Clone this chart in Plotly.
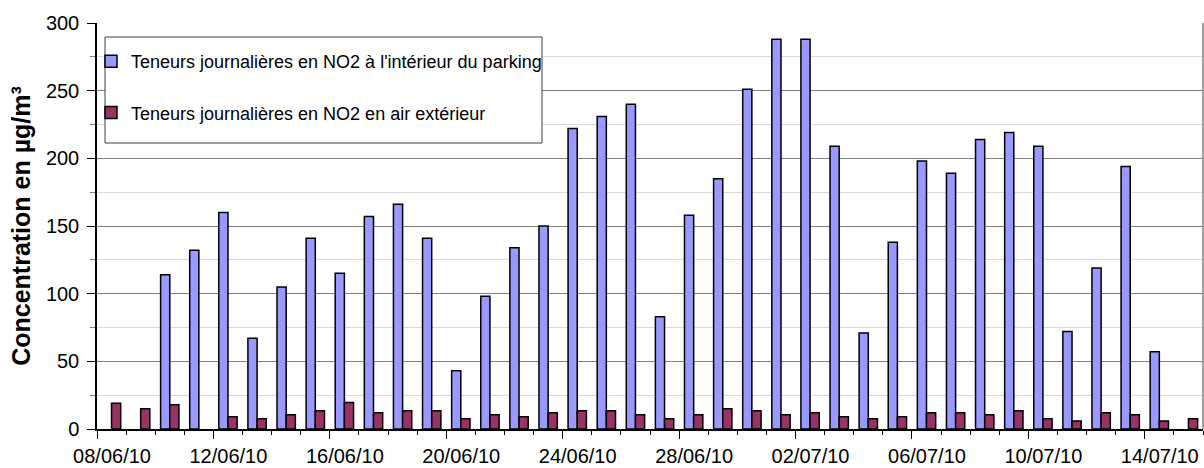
import plotly.graph_objects as go

# Daily NO2 measurements, 08/06/10 -> 15/07/10
dates = [
    "08/06/10", "09/06/10", "10/06/10", "11/06/10", "12/06/10", "13/06/10",
    "14/06/10", "15/06/10", "16/06/10", "17/06/10", "18/06/10", "19/06/10",
    "20/06/10", "21/06/10", "22/06/10", "23/06/10", "24/06/10", "25/06/10",
    "26/06/10", "27/06/10", "28/06/10", "29/06/10", "30/06/10", "01/07/10",
    "02/07/10", "03/07/10", "04/07/10", "05/07/10", "06/07/10", "07/07/10",
    "08/07/10", "09/07/10", "10/07/10", "11/07/10", "12/07/10", "13/07/10",
    "14/07/10", "15/07/10",
]

# Inside the car park (µg/m³), None = no measurement
no2_parking = [
    None, None, 114, 132, 160, 67, 105, 141, 115, 157, 166, 141,
    43, 98, 134, 150, 222, 231, 240, 83, 158, 185, 251, 288,
    288, 209, 71, 138, 198, 189, 214, 219, 209, 72, 119, 194,
    57, None,
]

# Outdoor air (µg/m³)
no2_exterieur = [
    19, 15, 18, None, 9, 7.5, 10.5, 13.5, 19.5, 12, 13.5, 13.5,
    7.5, 10.5, 9, 12, 13.5, 13.5, 10.5, 7.5, 10.5, 15, 13.5, 10.5,
    12, 9, 7.5, 9, 12, 12, 10.5, 13.5, 7.5, 6, 12, 10.5,
    6, 7.5,
]

label_every = 4
idx = list(range(len(dates)))

W, H = 1204, 468
M_L, M_R, M_T, M_B = 97, 1, 23, 39
PLOT_W = W - M_L - M_R
PLOT_H = H - M_T - M_B
cat_px = PLOT_W / len(dates)


def px_x(x):
    """Pixel column -> paper x fraction."""
    return (x - M_L) / PLOT_W


def px_y(y):
    """Pixel row -> paper y fraction."""
    return (H - M_B - y) / PLOT_H


FONT = "Liberation Sans, Arial, sans-serif"

fig = go.Figure()
fig.add_trace(go.Bar(
    x=idx, y=no2_parking,
    name="Teneurs journalières en NO2 à l'intérieur du parking",
    marker=dict(color="#9999FF", line=dict(color="black", width=1.5)),
    legendgroup="a",
))
fig.add_trace(go.Bar(
    x=idx, y=no2_exterieur,
    name="Teneurs journalières en NO2 en air extérieur",
    marker=dict(color="#993366", line=dict(color="black", width=1.5)),
    legendgroup="b",
))

tick_pos = [i - 0.5 for i in idx[::label_every]]
tick_txt = dates[::label_every]

fig.update_layout(
    width=W, height=H,
    margin=dict(l=M_L, r=M_R, t=M_T, b=M_B, autoexpand=False),
    paper_bgcolor="white", plot_bgcolor="white",
    font=dict(family=FONT, color="black"),
    barmode="group", bargap=0.37, bargroupgap=0,
    showlegend=True,
    legend=dict(
        x=px_x(91), y=px_y(43), xanchor="left", yanchor="top",
        bgcolor="rgba(0,0,0,0)", borderwidth=0,
        font=dict(size=18, family=FONT, color="black"),
        traceorder="grouped", tracegroupgap=25, itemwidth=30,
    ),
    xaxis=dict(
        range=[-0.5, len(dates) - 0.5],
        tickmode="array", tickvals=tick_pos, ticktext=tick_txt,
        ticklabelshift=int(round(cat_px / 2)),
        ticks="outside", ticklen=8, tickwidth=1, tickcolor="black",
        tickfont=dict(size=20, family=FONT),
        showline=True, linecolor="black", linewidth=1.5,
        showgrid=False, zeroline=False,
        minor=dict(ticks="outside", tick0=-0.5, dtick=1, ticklen=4,
                   tickcolor="black", showgrid=False),
        fixedrange=True,
    ),
    yaxis=dict(
        range=[0, 300], dtick=50, tick0=0,
        ticks="outside", ticklen=8, tickwidth=1, tickcolor="black",
        tickfont=dict(size=20, family=FONT),
        ticklabelstandoff=4,
        showline=True, linecolor="black", linewidth=1.5,
        showgrid=True, gridcolor="#808080", gridwidth=1,
        zeroline=False,
        minor=dict(ticks="outside", dtick=25, ticklen=5, tickcolor="#808080",
                   showgrid=True, gridcolor="#d9d9d9", gridwidth=1),
        title=dict(text="Concentration en µg/m³", standoff=8,
                   font=dict(size=25, family=FONT, weight="bold")),
        fixedrange=True,
    ),
    shapes=[
        # right frame edge
        dict(type="line", xref="paper", yref="paper", x0=1, x1=1, y0=0, y1=1,
             line=dict(color="#808080", width=1.5)),
        # legend frame
        dict(type="rect", xref="paper", yref="paper", layer="above",
             x0=px_x(105), x1=px_x(542), y0=px_y(143), y1=px_y(37),
             fillcolor="white", line=dict(color="#404040", width=1)),
    ],
)

fig.write_html("out.html")
